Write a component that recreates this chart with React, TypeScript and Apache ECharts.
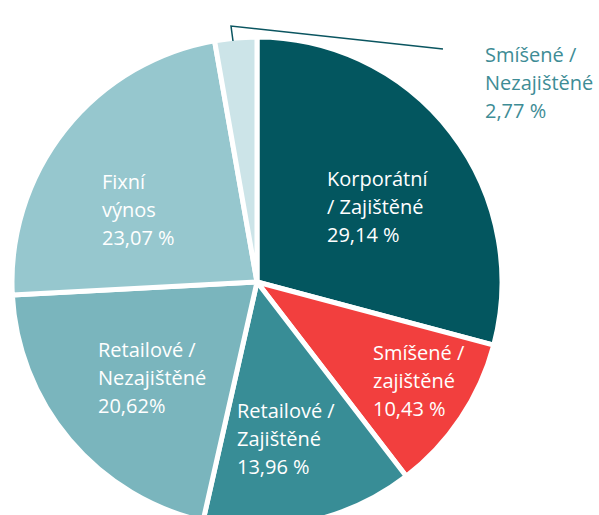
import React, { useEffect, useRef } from "react";
import * as echarts from "echarts";

const categories = [
  "Korporátní\n/ Zajištěné",
  "Smíšené /\nzajištěné",
  "Retailové /\nZajištěné",
  "Retailové /\nNezajištěné",
  "Fixní\nvýnos",
  "Smíšené /\nNezajištěné",
];
const values = [29.14, 10.43, 13.96, 20.62, 23.07, 2.77];
const percentSuffix = [" %", " %", " %", "%", " %", " %"];
const colors = ["#03565F", "#F23F3E", "#388D96", "#7AB5BD", "#96C7CE", "#CCE4E8"];
const labelColors = ["#ffffff", "#ffffff", "#ffffff", "#ffffff", "#ffffff", "#3E8C95"];
const labelPos: [number, number][] = [
  [327, 164],
  [373, 338],
  [237, 396],
  [98, 335],
  [102, 167],
  [485, 40],
];

export default function App() {
  const ref = useRef<HTMLDivElement>(null);
  useEffect(() => {
    if (!ref.current) return;
    const chart = echarts.init(ref.current, undefined, { renderer: "svg" });
    chart.setOption({
      animation: false,
      backgroundColor: "#ffffff",
      graphic: [
        {
          type: "polyline",
          shape: { points: [[233, 41], [231, 26], [443, 49]] },
          style: { stroke: "#0A5560", lineWidth: 1.5, fill: "none" },
          z: 10,
        },
      ],
      series: [
        {
          type: "pie",
          center: [257, 282],
          radius: [0, 245],
          startAngle: 90,
          clockwise: true,
          itemStyle: { borderColor: "#ffffff", borderWidth: 5 },
          label: {
            show: true,
            position: "inside",
            fontFamily: "Open Sans",
            fontSize: 20,
            lineHeight: 28,
            align: "left",
            formatter: (p: any) =>
              `${p.name}\n${values[p.dataIndex].toFixed(2).replace(".", ",")}${percentSuffix[p.dataIndex]}`,
          },
          labelLine: { show: false },
          labelLayout: (params: any) => ({
            x: labelPos[params.dataIndex][0],
            y: labelPos[params.dataIndex][1],
            align: "left",
            verticalAlign: "top",
          }),
          emphasis: { disabled: true },
          data: categories.map((c, i) => ({
            name: c,
            value: values[i],
            itemStyle: { color: colors[i] },
            label: { color: labelColors[i] },
          })),
        },
      ],
    });
    return () => chart.dispose();
  }, []);
  return (
    <div
      ref={ref}
      style={{ position: "fixed", left: 0, top: 0, width: 599, height: 515 }}
    />
  );
}
